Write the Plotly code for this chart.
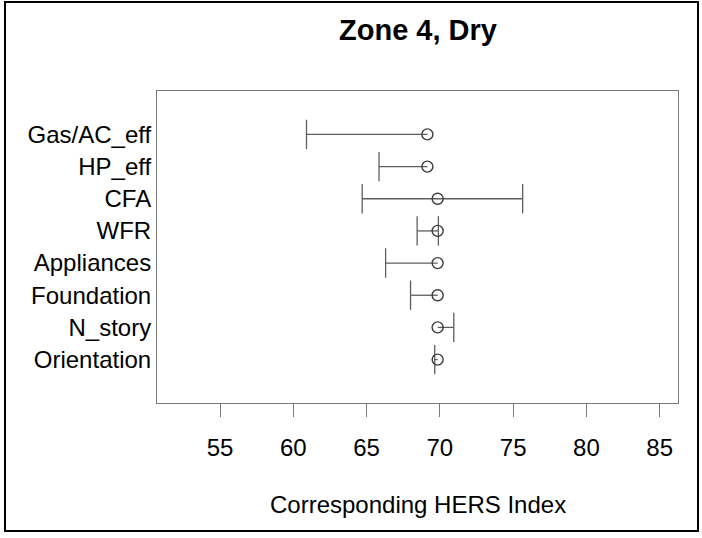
import plotly.graph_objects as go

# ---- data ----
categories = ["Gas/AC_eff", "HP_eff", "CFA", "WFR", "Appliances",
              "Foundation", "N_story", "Orientation"]
center = [69.15, 69.15, 69.85, 69.85, 69.85, 69.85, 69.85, 69.85]
low = [60.9, 65.85, 64.7, 68.45, 66.3, 68.0, 69.85, 69.65]
high = [69.15, 69.15, 75.65, 69.9, 69.85, 69.85, 70.95, 69.85]
x_ticks = [55, 60, 65, 70, 75, 80, 85]
title_text = "Zone 4, Dry"
x_title = "Corresponding HERS Index"

n = len(categories)
ypos = [n - i for i in range(n)]  # top category at the top

FONT = "Liberation Sans, Arial, Helvetica, sans-serif"
LINE_C = "#5e5e5e"
PT_C = "#3c3c3c"
BOX_C = "#7a7a7a"

# range segments
seg_x, seg_y = [], []
for lo, hi, y in zip(low, high, ypos):
    seg_x += [lo, hi, None]
    seg_y += [y, y, None]

# caps where the range extends beyond the centre
cap_x, cap_y = [], []
for lo, hi, c, y in zip(low, high, center, ypos):
    if lo != c:
        cap_x.append(lo); cap_y.append(y)
    if hi != c:
        cap_x.append(hi); cap_y.append(y)

fig = go.Figure()
fig.add_trace(go.Scatter(x=seg_x, y=seg_y, mode="lines",
                         line=dict(color=LINE_C, width=1.3),
                         hoverinfo="skip", showlegend=False))
fig.add_trace(go.Scatter(x=cap_x, y=cap_y, mode="markers",
                         marker=dict(symbol="line-ns", size=21,
                                     line=dict(color=LINE_C, width=1.3)),
                         hoverinfo="skip", showlegend=False))
fig.add_trace(go.Scatter(x=center, y=ypos, mode="markers",
                         marker=dict(symbol="circle-open", size=11,
                                     color=PT_C, line=dict(color=PT_C, width=1.4)),
                         text=categories, showlegend=False))

fig.update_layout(
    width=702, height=538,
    margin=dict(l=157, r=24, t=91, b=135, autoexpand=False),
    paper_bgcolor="white", plot_bgcolor="white",
    font=dict(family=FONT, color="black", size=24),
    xaxis=dict(range=[50.7, 86.25], tickvals=x_ticks,
               ticktext=[str(v) for v in x_ticks],
               ticks="outside", ticklen=13, tickwidth=1, tickcolor=BOX_C,
               showline=True, mirror=True, linecolor=BOX_C, linewidth=1,
               showgrid=False, zeroline=False,
               tickfont=dict(size=24, family=FONT, color="black"),
               ticklabelstandoff=10),
    yaxis=dict(range=[-0.35, 9.35], tickvals=ypos, ticktext=categories,
               ticks="", showline=True, mirror=True, linecolor=BOX_C,
               linewidth=1, showgrid=False, zeroline=False,
               tickfont=dict(size=24, family=FONT, color="black"),
               ticklabelstandoff=0),
    annotations=[
        dict(text="<b>" + title_text + "</b>", xref="paper", yref="paper",
             x=0.5, y=(403 - 30) / 312, xanchor="center", yanchor="middle",
             showarrow=False, font=dict(size=29, family=FONT, color="black")),
        dict(text=x_title, xref="paper", yref="paper",
             x=0.5, y=(403 - 504) / 312, xanchor="center", yanchor="middle",
             showarrow=False, font=dict(size=24, family=FONT, color="black")),
    ],
    shapes=[dict(type="rect", xref="paper", yref="paper",
                 x0=(5 - 157) / 521, x1=(698 - 157) / 521,
                 y0=(403 - 531) / 312, y1=(403 - 2) / 312,
                 line=dict(color="black", width=2), layer="above")],
)

fig.write_html("out.html", config={"displayModeBar": False},
               post_script="document.body.style.margin='0';document.body.style.overflow='hidden';")
